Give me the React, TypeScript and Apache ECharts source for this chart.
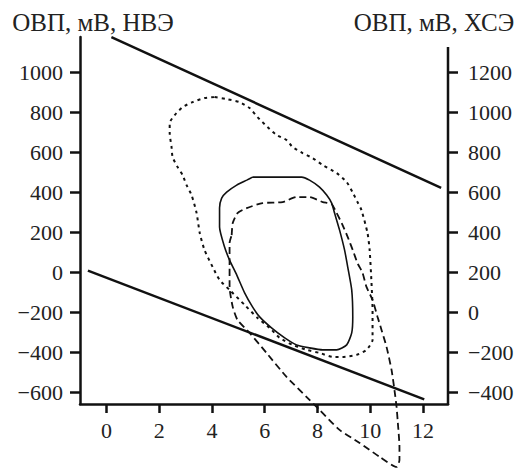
import React, { useEffect, useRef } from "react";
import * as echarts from "echarts";

const xTicks = [0, 2, 4, 6, 8, 10, 12];
const leftTicks = [-600, -400, -200, 0, 200, 400, 600, 800, 1000];
const rightTicks = [-400, -200, 0, 200, 400, 600, 800, 1000, 1200];
const leftTitle = "ОВП, мВ, НВЭ";
const rightTitle = "ОВП, мВ, ХСЭ";

// water stability limits (pH, mV NHE)
const upperLine = [[0.19, 1178], [12.69, 424]];
const lowerLine = [[-0.7, 10], [12.05, -633]];

// solid thin loop
const loopSolid = [
  [5.54, 478], [7.4, 478], [7.7, 463], [8.08, 428], [8.35, 388], [8.54, 348], [8.65, 298],
  [8.84, 213], [9.03, 113], [9.15, 28], [9.3, -86], [9.34, -221], [9.3, -301], [9.11, -361],
  [8.73, -386], [8.2, -386], [7.7, -376], [7.21, -361], [6.76, -326], [6.26, -276], [5.81, -221],
  [5.54, -171], [5.24, -101], [4.94, -11], [4.67, 63], [4.48, 128], [4.29, 228], [4.29, 323],
  [4.37, 373], [4.56, 403], [4.94, 438], [5.32, 463], [5.54, 478],
];

// long-dash loop
const loopDashed = [
  [4.75, 188], [4.79, 248], [4.97, 298], [5.32, 323], [5.92, 348], [6.68, 353], [7.21, 378],
  [7.7, 378], [8.2, 353], [8.54, 343], [8.73, 298], [8.92, 248], [9.15, 178], [9.34, 113],
  [9.52, 48], [9.71, -1], [9.86, -71], [10.09, -136], [10.28, -221], [10.43, -286], [10.62, -371],
  [10.81, -486], [10.92, -586], [11.0, -671], [11.04, -736], [11.11, -871], [11.11, -936],
  [11.0, -971], [10.36, -921], [9.6, -851], [8.84, -786], [8.08, -686], [7.7, -636], [6.83, -521],
  [6.07, -401], [5.43, -301], [4.97, -236], [4.79, -171], [4.67, -71], [4.67, 28], [4.67, 148],
  [4.75, 188],
];

// short-dash outer loop
const loopDotted = [
  [4.11, 878], [4.56, 868], [5.05, 853], [5.43, 823], [5.73, 778], [6.11, 728], [6.46, 688],
  [6.83, 663], [7.06, 628], [7.44, 598], [7.82, 573], [8.2, 538], [8.73, 498], [9.11, 453],
  [9.33, 403], [9.52, 353], [9.67, 313], [9.9, 198], [9.98, 113], [10.05, -51], [10.09, -186],
  [10.09, -336], [9.86, -386], [9.48, -411], [8.95, -421], [8.58, -421], [8.08, -401],
  [7.59, -386], [7.06, -361], [6.57, -326], [6.19, -276], [5.73, -226], [5.24, -161],
  [4.67, -86], [4.29, -36], [4.03, 28], [3.72, 113], [3.54, 198], [3.42, 298], [3.23, 388],
  [3.04, 438], [2.89, 488], [2.7, 528], [2.51, 578], [2.47, 628], [2.4, 698], [2.4, 748],
  [2.59, 788], [2.89, 828], [3.27, 853], [3.72, 873], [4.11, 878],
];

const FONT = "Liberation Serif";
const TEXT = "#222";
const INK = "#111";
const fmt = (v: number) => String(v).replace("-", "\u2212");

export default function App() {
  const ref = useRef<HTMLDivElement>(null);
  useEffect(() => {
    const chart = echarts.init(ref.current!, null, { renderer: "svg" });
    const labelStyle = { fontFamily: FONT, fontSize: 22, color: TEXT, formatter: fmt };
    chart.setOption({
      animation: false,
      backgroundColor: "#fff",
      grid: { left: 80, right: 74, top: 37, bottom: 65 },
      xAxis: {
        type: "value",
        min: -1,
        max: 12.95,
        axisLine: { show: true, onZero: false, lineStyle: { color: INK, width: 2.5 } },
        axisTick: { show: true, length: 9, customValues: xTicks, lineStyle: { color: INK, width: 2.5 } },
        axisLabel: { ...labelStyle, margin: 15, customValues: xTicks },
        splitLine: { show: false },
      },
      yAxis: [
        {
          type: "value",
          position: "left",
          min: -656.5,
          max: 1178.5,
          axisLine: { show: true, onZero: false, lineStyle: { color: INK, width: 2.5 } },
          axisTick: { show: true, length: 10, customValues: leftTicks, lineStyle: { color: INK, width: 2.5 } },
          axisLabel: { ...labelStyle, margin: 17, customValues: leftTicks },
          splitLine: { show: false },
        },
        {
          type: "value",
          position: "right",
          min: -456.5,
          max: 1378.5,
          axisLine: { show: false, onZero: false },
          axisTick: { show: true, length: 10, customValues: rightTicks, lineStyle: { color: INK, width: 2.5 } },
          axisLabel: { ...labelStyle, margin: 20, customValues: rightTicks },
          splitLine: { show: false },
        },
      ],
      graphic: [
        {
          type: "line",
          shape: { x1: 448, y1: 47, x2: 448, y2: 405 },
          style: { stroke: INK, lineWidth: 2.5 },
        },
        {
          type: "text",
          x: 93,
          y: 22,
          style: { text: leftTitle, fontFamily: FONT, fontSize: 25, fill: TEXT, align: "center", verticalAlign: "middle" },
        },
        {
          type: "text",
          x: 434,
          y: 22,
          style: { text: rightTitle, fontFamily: FONT, fontSize: 25, fill: TEXT, align: "center", verticalAlign: "middle" },
        },
      ],
      series: [
        {
          type: "line", data: upperLine, symbol: "none",
          lineStyle: { color: INK, width: 2.5 },
        },
        {
          type: "line", data: lowerLine, symbol: "none",
          lineStyle: { color: INK, width: 2.5 },
        },
        {
          type: "line", data: loopSolid, symbol: "none", smooth: 0.2,
          lineStyle: { color: INK, width: 1.6 },
        },
        {
          type: "line", data: loopDashed, symbol: "none", smooth: 0.2, clip: false,
          lineStyle: { color: INK, width: 1.8, type: [7, 4] },
        },
        {
          type: "line", data: loopDotted, symbol: "none", smooth: 0.2,
          lineStyle: { color: INK, width: 2, type: [3, 4] },
        },
      ],
    });
    return () => chart.dispose();
  }, []);
  return <div ref={ref} style={{ position: "fixed", left: 0, top: 0, width: 522, height: 469 }} />;
}
